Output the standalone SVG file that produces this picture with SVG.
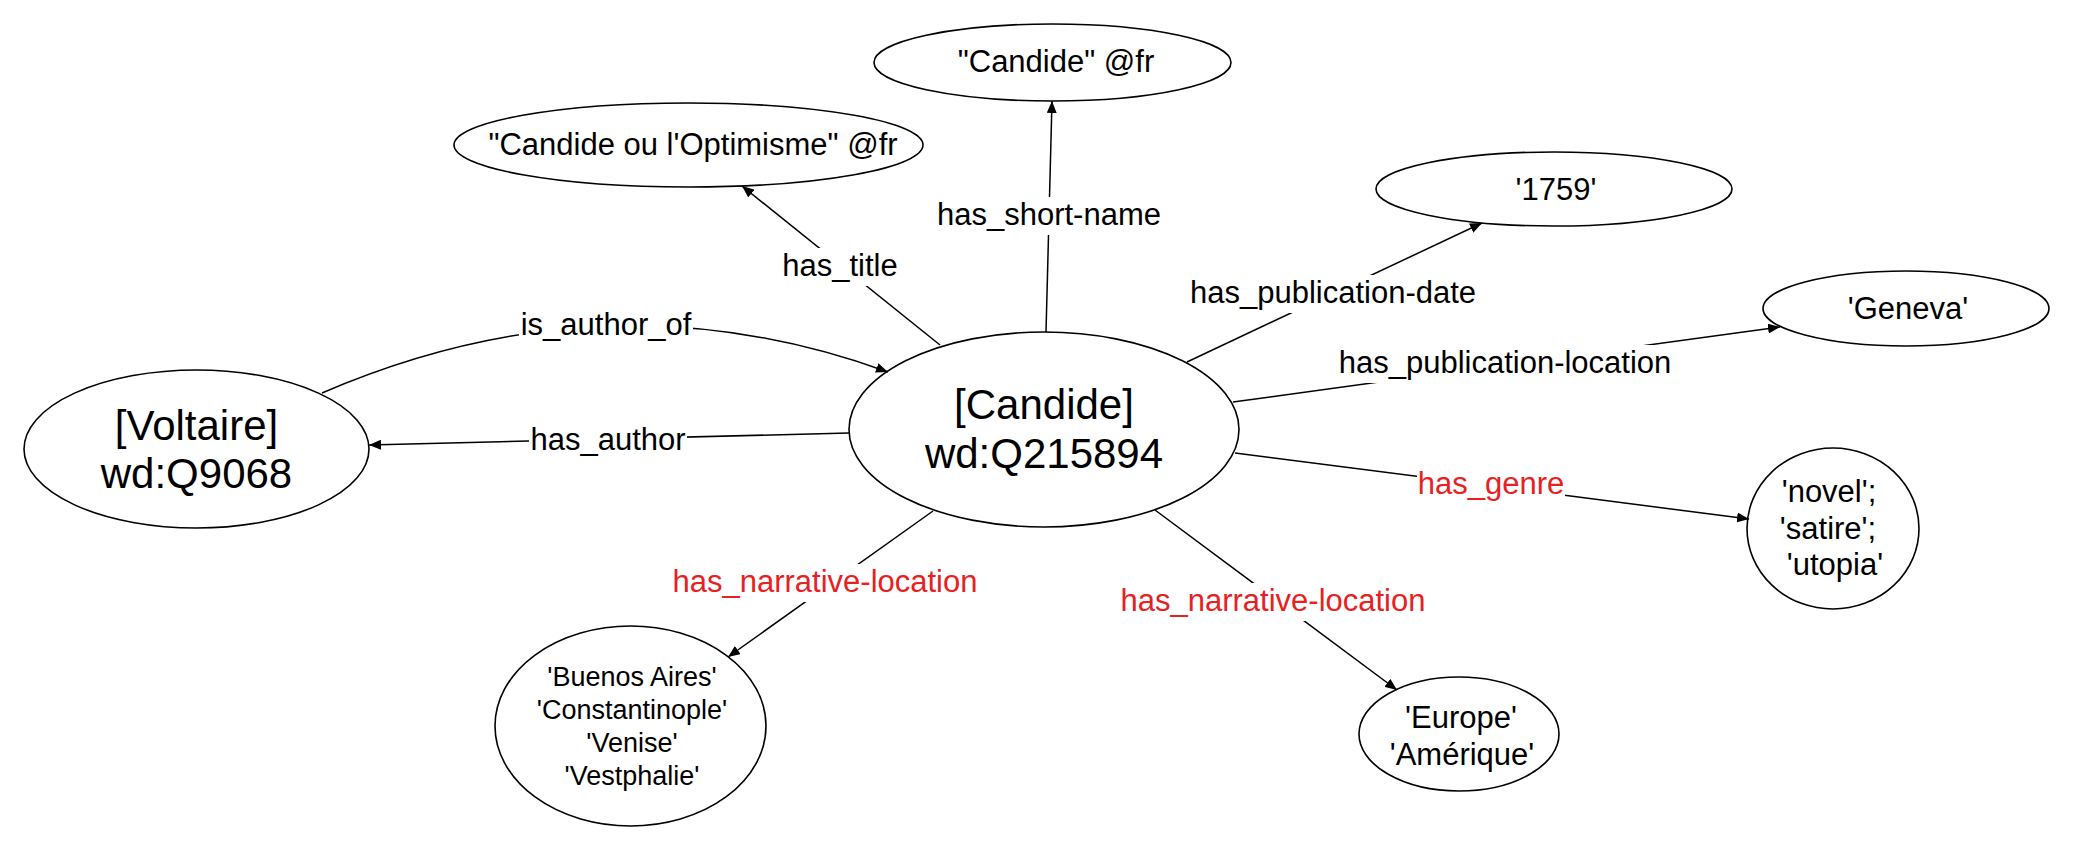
<svg xmlns="http://www.w3.org/2000/svg" width="2075" height="852" viewBox="0 0 2075 852">
<style>
.node{fill:#fff;stroke:#000;stroke-width:1.6}
.t{font-family:"Liberation Sans",Arial,sans-serif;fill:#000;text-anchor:middle}
.big{font-size:42px}
.mid{font-size:31px}
.sm{font-size:27px}
.edge{fill:none;stroke:#000;stroke-width:1.5}
.lbl{font-family:"Liberation Sans",Arial,sans-serif;font-size:31px;text-anchor:middle;fill:#000}
.red{fill:#e8201f}
.bg{fill:#fff}
</style>
<defs>
<marker id="arr" viewBox="0 0 12 10" refX="12" refY="5" markerWidth="12" markerHeight="10" markerUnits="userSpaceOnUse" orient="auto">
<path d="M0,0 L12,5 L0,10 z" fill="#000"/>
</marker>
</defs>
<rect width="2075" height="852" fill="#fff"/>

<g id="node-voltaire">
<ellipse class="node" cx="196.5" cy="449" rx="172.5" ry="79"/>
<text class="t big" x="196.5" y="440">[Voltaire]</text>
<text class="t big" x="196.5" y="488">wd:Q9068</text>
</g>
<g id="node-candide">
<ellipse class="node" cx="1044" cy="429.5" rx="195" ry="97.5"/>
<text class="t big" x="1044" y="419">[Candide]</text>
<text class="t big" x="1044" y="468">wd:Q215894</text>
</g>
<g id="node-title">
<ellipse class="node" cx="688.5" cy="145" rx="234.5" ry="42"/>
<text class="t mid" x="693" y="155">"Candide ou l'Optimisme" @fr</text>
</g>
<g id="node-shortname">
<ellipse class="node" cx="1052.5" cy="62.5" rx="178.5" ry="38.5"/>
<text class="t mid" x="1056" y="72">"Candide" @fr</text>
</g>
<g id="node-date">
<ellipse class="node" cx="1554" cy="189" rx="178" ry="37"/>
<text class="t mid" x="1556" y="200">'1759'</text>
</g>
<g id="node-geneva">
<ellipse class="node" cx="1906" cy="308.5" rx="143" ry="37.5"/>
<text class="t mid" x="1908" y="319">'Geneva'</text>
</g>
<g id="node-genre">
<ellipse class="node" cx="1833" cy="528.5" rx="86" ry="80.5"/>
<text class="t mid" x="1829" y="502">'novel';</text>
<text class="t mid" x="1828" y="539">'satire';</text>
<text class="t mid" x="1835" y="575">'utopia'</text>
</g>
<g id="node-places1">
<ellipse class="node" cx="630.5" cy="726" rx="135.5" ry="100"/>
<text class="t sm" x="632" y="686">'Buenos Aires'</text>
<text class="t sm" x="632" y="719">'Constantinople'</text>
<text class="t sm" x="632" y="752">'Venise'</text>
<text class="t sm" x="632" y="785">'Vestphalie'</text>
</g>
<g id="node-places2">
<ellipse class="node" cx="1459" cy="734" rx="100" ry="57"/>
<text class="t mid" x="1461" y="728">'Europe'</text>
<text class="t mid" x="1462" y="765">'Amérique'</text>
</g>

<g id="connectors">
<path class="edge" d="M322,393 Q607,270 888,372" marker-end="url(#arr)"/>
<line class="edge" x1="849" y1="433" x2="369" y2="445" marker-end="url(#arr)"/>
<line class="edge" x1="940" y1="345" x2="742" y2="186" marker-end="url(#arr)"/>
<line class="edge" x1="1046" y1="332" x2="1052" y2="101" marker-end="url(#arr)"/>
<line class="edge" x1="1187" y1="362" x2="1482" y2="223" marker-end="url(#arr)"/>
<line class="edge" x1="1233" y1="402" x2="1780" y2="327" marker-end="url(#arr)"/>
<line class="edge" x1="1235" y1="453" x2="1749" y2="519" marker-end="url(#arr)"/>
<line class="edge" x1="933" y1="511" x2="728" y2="657" marker-end="url(#arr)"/>
<line class="edge" x1="1155" y1="510" x2="1397" y2="690" marker-end="url(#arr)"/>

<rect class="bg" x="519" y="307" width="174" height="38"/>
<text class="lbl" x="606" y="335">is_author_of</text>
<rect class="bg" x="529" y="422" width="158" height="38"/>
<text class="lbl" x="608" y="450">has_author</text>
<rect class="bg" x="781" y="248" width="118" height="38"/>
<text class="lbl" x="840" y="276">has_title</text>
<rect class="bg" x="935" y="197" width="228" height="38"/>
<text class="lbl" x="1049" y="225">has_short-name</text>
<rect class="bg" x="1187" y="275" width="292" height="38"/>
<text class="lbl" x="1333" y="303">has_publication-date</text>
<rect class="bg" x="1336" y="345" width="339" height="38"/>
<text class="lbl" x="1505" y="373">has_publication-location</text>
<rect class="bg" x="1417" y="466" width="148" height="38"/>
<text class="lbl red" x="1491" y="494">has_genre</text>
<rect class="bg" x="671" y="564" width="309" height="38"/>
<text class="lbl red" x="825" y="592">has_narrative-location</text>
<rect class="bg" x="1118" y="583" width="310" height="38"/>
<text class="lbl red" x="1273" y="611">has_narrative-location</text>
</g>
</svg>
